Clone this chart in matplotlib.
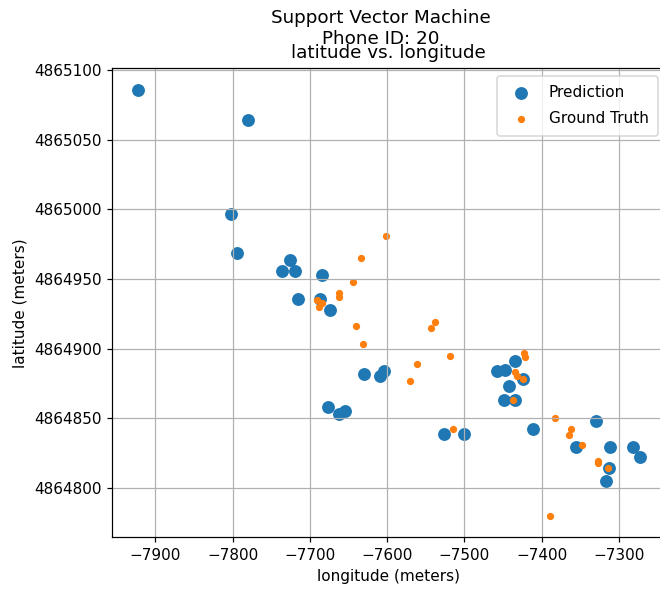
import numpy as np
import matplotlib as mpl
mpl.use('Agg')
import matplotlib.pyplot as plt

#%% datos

# prediccion (puntos azules)
pred_lon = [-7923, -7780, -7802, -7795, -7726, -7736, -7720, -7685, -7716, -7687,
            -7674, -7630, -7609, -7604, -7676, -7663, -7654, -7527, -7500,
            -7458, -7448, -7434, -7424, -7442, -7449, -7434, -7411, -7330,
            -7355, -7312, -7282, -7273, -7313, -7317]
pred_lat = [4865086, 4865064, 4864997, 4864969, 4864964, 4864956, 4864956, 4864953,
            4864936, 4864936, 4864928, 4864882, 4864880, 4864884, 4864858, 4864853,
            4864855, 4864839, 4864839, 4864884, 4864885, 4864891, 4864878, 4864873,
            4864863, 4864863, 4864842, 4864848, 4864829, 4864829, 4864829,
            4864822, 4864814, 4864805]

# verdad (puntos naranjas)
true_lon = [-7601, -7634, -7644, -7662, -7662, -7691, -7684, -7688, -7641, -7631,
            -7538, -7543, -7519, -7562, -7571, -7515, -7423, -7422, -7435, -7432,
            -7424, -7437, -7383, -7362, -7364, -7348, -7327, -7327, -7314, -7389]
true_lat = [4864981, 4864965, 4864948, 4864940, 4864937, 4864935, 4864933, 4864930,
            4864916, 4864903, 4864919, 4864915, 4864895, 4864889, 4864877, 4864842,
            4864897, 4864894, 4864883, 4864880, 4864878, 4864863, 4864850, 4864842,
            4864838, 4864831, 4864819, 4864818, 4864814, 4864780]

#%% grafico

fig = plt.figure(figsize=(6.0, 5.391), dpi=110)
# el eje se sale un poco por la derecha, como en la figura recortada
ax = fig.add_axes([0.170, 0.094, 0.838, 0.791])

ax.scatter(pred_lon, pred_lat, s=55, color='tab:blue', label='Prediction')
ax.scatter(true_lon, true_lat, s=14, color='tab:orange', label='Ground Truth')

ax.set_xlim(-7956, -7240)
ax.set_ylim(4864764.5, 4865101.5)
ax.ticklabel_format(useOffset=False, style='plain')
ax.grid(True)

ax.set_xlabel('longitude (meters)')
ax.set_ylabel('latitude (meters)')
ax.set_title('latitude vs. longitude', pad=7)
fig.suptitle('Support Vector Machine\nPhone ID: 20', x=0.577, y=0.985)
ax.legend(loc='upper right', labelspacing=0.75, borderpad=0.6)

fig.savefig('out.png')
